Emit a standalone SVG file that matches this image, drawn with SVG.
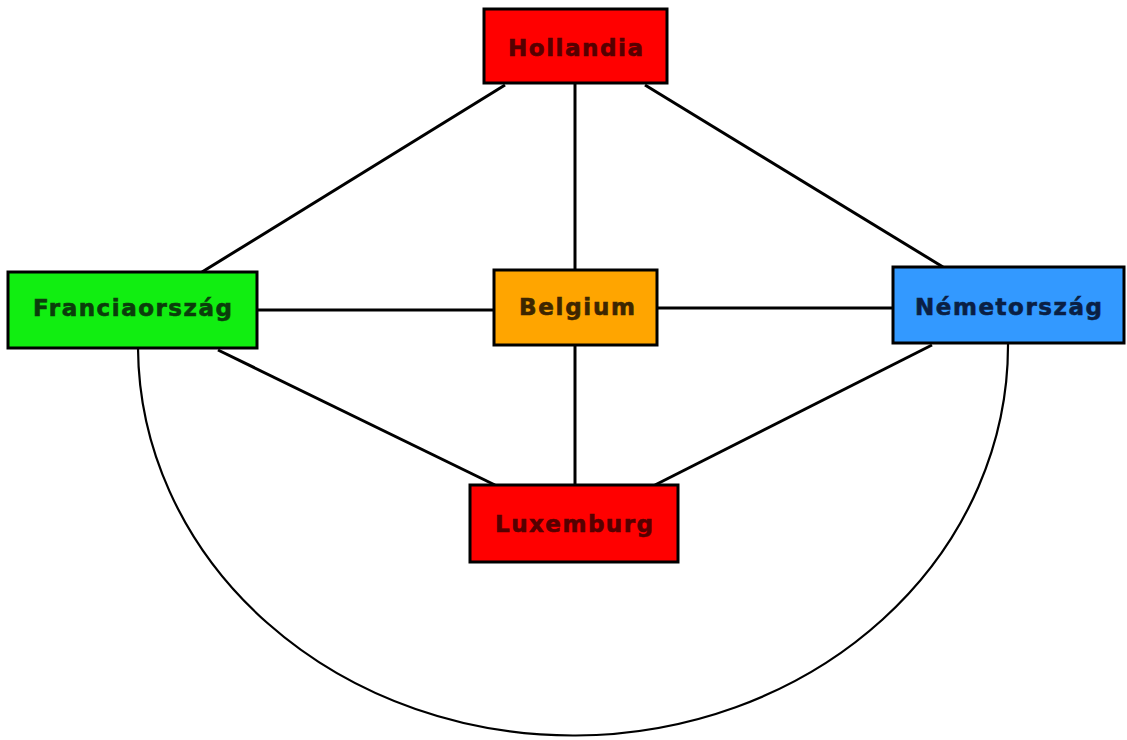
<svg xmlns="http://www.w3.org/2000/svg" width="1127" height="740" viewBox="0 0 1127 740">
<style>
.box{stroke:#000;stroke-width:3}
.lbl{font-family:"DejaVu Sans","Liberation Sans",sans-serif;font-weight:bold;font-size:23px;text-anchor:middle;stroke-width:0.6px}
.edge{stroke:#000;stroke-width:3;fill:none}
.arc{stroke:#000;stroke-width:2.2;fill:none}
</style>
<rect width="1127" height="740" fill="#fff"/>
<g id="connectors">
<line class="edge" x1="505" y1="85" x2="202" y2="272"/>
<line class="edge" x1="575" y1="83" x2="575" y2="270"/>
<line class="edge" x1="645" y1="85" x2="943" y2="267"/>
<line class="edge" x1="257" y1="310" x2="494" y2="310"/>
<line class="edge" x1="657" y1="308" x2="893" y2="308"/>
<line class="edge" x1="218" y1="350" x2="495" y2="485"/>
<line class="edge" x1="575" y1="345" x2="575" y2="485"/>
<line class="edge" x1="932" y1="345" x2="655" y2="485"/>
<path class="arc" d="M138,348 A435,390 0 0 0 1008,343"/>
</g>
<g id="hollandia">
<rect class="box" x="484" y="9" width="183" height="74" fill="#ff0000"/>
<text class="lbl" x="575.5" y="56" fill="#550000" stroke="#550000" textLength="135">Hollandia</text>
</g>
<g id="franciaorszag">
<rect class="box" x="8" y="272" width="249" height="76" fill="#11ee11"/>
<text class="lbl" x="132.5" y="316" fill="#0b3d0b" stroke="#0b3d0b" textLength="199">Franciaország</text>
</g>
<g id="belgium">
<rect class="box" x="494" y="270" width="163" height="75" fill="#ffa500"/>
<text class="lbl" x="577" y="315" fill="#3d2600" stroke="#3d2600" textLength="116">Belgium</text>
</g>
<g id="nemetorszag">
<rect class="box" x="893" y="267" width="231" height="76" fill="#3399ff"/>
<text class="lbl" x="1008.5" y="315" fill="#0a1f44" stroke="#0a1f44" textLength="187">Németország</text>
</g>
<g id="luxemburg">
<rect class="box" x="470" y="485" width="208" height="77" fill="#ff0000"/>
<text class="lbl" x="574" y="532" fill="#550000" stroke="#550000" textLength="158">Luxemburg</text>
</g>
</svg>
